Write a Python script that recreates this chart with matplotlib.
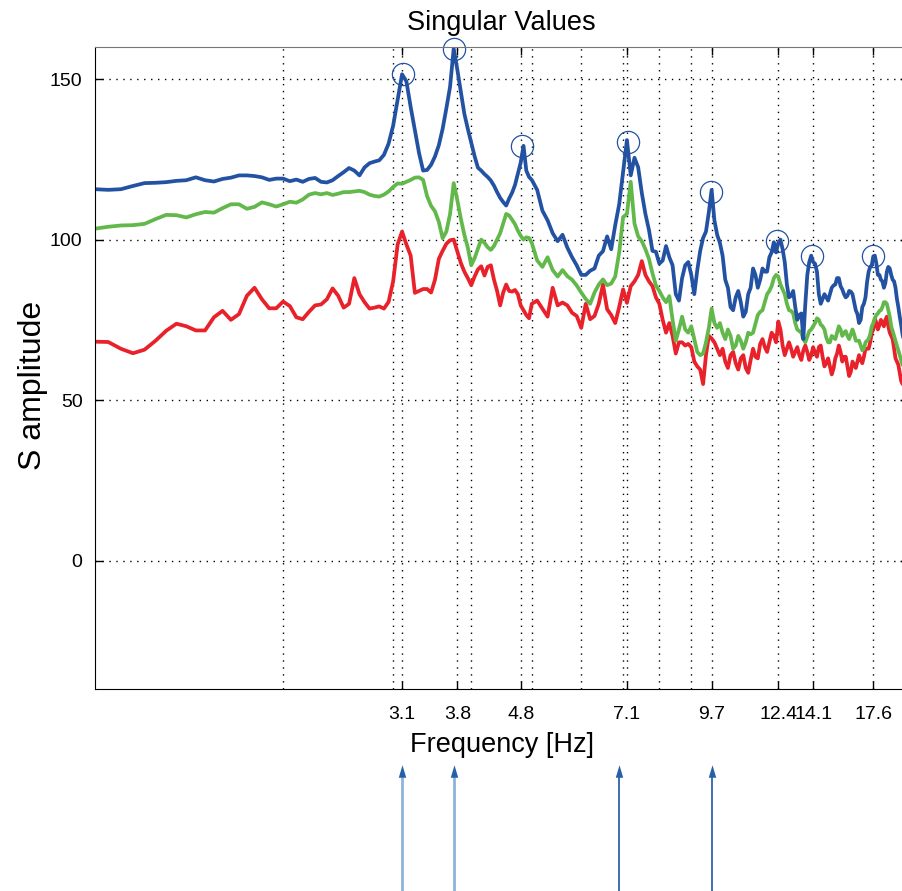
import numpy as np
import matplotlib
matplotlib.use('Agg')
from matplotlib import pyplot as plt
from matplotlib import transforms

plt.rcParams['font.family'] = ['Liberation Sans', 'DejaVu Sans']

# frequency samples [Hz]
freq = [1.00, 1.05, 1.10, 1.15, 1.20, 1.25, 1.30, 1.35, 1.40, 1.45,
        1.50, 1.55, 1.60, 1.65, 1.70, 1.75, 1.80, 1.85, 1.90, 1.95,
        2.00, 2.05, 2.10, 2.15, 2.20, 2.25, 2.30, 2.35, 2.40, 2.45,
        2.50, 2.55, 2.60, 2.65, 2.70, 2.75, 2.80, 2.85, 2.90, 2.95,
        3.00, 3.05, 3.10, 3.15, 3.20, 3.25, 3.30, 3.35, 3.40, 3.45,
        3.50, 3.55, 3.60, 3.65, 3.70, 3.75, 3.80, 3.85, 3.90, 3.95,
        4.00, 4.05, 4.10, 4.15, 4.20, 4.25, 4.30, 4.35, 4.40, 4.45,
        4.50, 4.55, 4.60, 4.65, 4.70, 4.75, 4.80, 4.85, 4.90, 4.95,
        5.00,
        5.1, 5.2, 5.3, 5.4, 5.5, 5.6, 5.7, 5.8, 5.9, 6.0,
        6.1, 6.2, 6.3, 6.4, 6.5, 6.6, 6.7, 6.8, 6.9, 7.0,
        7.1, 7.2, 7.3, 7.4, 7.5, 7.6, 7.7, 7.8, 7.9, 8.0,
        8.1, 8.2, 8.3, 8.4, 8.5, 8.6, 8.7, 8.8, 8.9, 9.0,
        9.1, 9.2, 9.3, 9.4, 9.5, 9.6, 9.7, 9.8, 9.9, 10.0,
        10.1, 10.2, 10.3, 10.4, 10.5, 10.6, 10.7, 10.8, 10.9, 11.0,
        11.1, 11.2, 11.3, 11.4, 11.5, 11.6, 11.7, 11.8, 11.9, 12.0,
        12.1, 12.2, 12.3, 12.4, 12.5, 12.6, 12.7, 12.8, 12.9, 13.0,
        13.1, 13.2, 13.3, 13.4, 13.5, 13.6, 13.7, 13.8, 13.9, 14.0,
        14.1, 14.2, 14.3, 14.4, 14.5, 14.6, 14.7, 14.8, 14.9, 15.0,
        15.1, 15.2, 15.3, 15.4, 15.5, 15.6, 15.7, 15.8, 15.9, 16.0,
        16.1, 16.2, 16.3, 16.4, 16.5, 16.6, 16.7, 16.8, 16.9, 17.0,
        17.1, 17.2, 17.3, 17.4, 17.5, 17.6, 17.7, 17.8, 17.9, 18.0,
        18.1, 18.2, 18.3, 18.4, 18.5, 18.6, 18.7, 18.8, 18.9, 19.0,
        19.1, 19.2, 19.3, 19.4, 19.5, 19.6, 19.7, 19.8, 19.9, 20.0]

# first singular value
sv1 = [115.7, 115.5, 115.7, 116.7, 117.6, 117.7, 117.9, 118.3, 118.5, 119.4,
       118.5, 118.1, 118.9, 119.3, 120.0, 120.0, 119.8, 119.4, 118.6, 119.0,
       119.0, 118.2, 118.7, 118.0, 118.9, 119.2, 118.0, 117.8, 118.5, 119.8,
       121.0, 122.3, 121.5, 120.0, 122.5, 123.8, 124.3, 124.7, 126.4, 129.9,
       135.5, 143.5, 151.5, 149.3, 141.3, 134.0, 127.0, 121.5, 121.7, 123.3,
       125.9, 129.4, 134.5, 140.9, 147.6, 159.5, 153.0, 146.0, 139.2, 134.5,
       130.2, 126.0, 122.4, 121.5, 120.4, 119.5, 118.4, 116.8, 114.8, 113.0,
       111.7, 110.6, 112.8, 114.6, 117.0, 120.5, 124.0, 129.2, 121.5, 119.5,
       118.6,
       115.5, 109.0, 106.0, 102.0, 99.5, 101.5, 97.5, 94.5, 92.0, 89.0,
       89.0, 90.3, 91.0, 95.0, 96.4, 101.0, 97.0, 104.5, 111.0, 121.0,
       131.0, 120.0, 125.5, 122.5, 114.5, 108.0, 103.0, 96.5, 96.2, 92.5,
       93.5, 98.0, 94.5, 92.0, 83.0, 81.0, 88.0, 92.0, 93.0, 89.0,
       83.0, 90.5, 96.5, 100.5, 102.5, 108.5, 115.5, 106.0, 101.5, 99.0,
       95.0, 87.5, 85.0, 79.0, 78.0, 82.0, 84.0, 80.5, 76.0, 77.5,
       83.0, 85.0, 91.0, 89.0, 85.0, 87.5, 91.0, 90.0, 90.0, 94.5,
       96.0, 99.2, 96.0, 99.0, 100.0, 97.0, 93.0, 86.0, 82.0, 82.5,
       84.0, 79.0, 75.0, 76.5, 77.0, 69.0, 80.0, 89.0, 93.0, 95.0,
       93.0, 92.5, 90.0, 83.0, 80.0, 81.5, 83.0, 82.0, 81.0, 83.0,
       85.0, 85.7, 86.0, 88.0, 88.0, 85.5, 84.5, 83.0, 82.0, 82.5,
       84.0, 83.8, 83.0, 80.5, 78.0, 76.8, 74.0, 75.0, 79.0, 80.0,
       82.0, 86.8, 90.0, 91.5, 92.0, 94.8, 95.0, 92.5, 89.0, 89.0,
       87.5, 87.0, 85.0, 86.5, 90.0, 91.5, 91.0, 89.0, 87.5, 87.0,
       85.0, 81.5, 79.0, 76.0, 73.5, 70.5, 68.5, 67.0, 65.5, 64.0]

# second singular value
sv2 = [103.4, 104.0, 104.4, 104.5, 104.9, 106.4, 107.7, 107.6, 106.9, 107.9,
       108.6, 108.4, 109.8, 111.0, 111.0, 109.6, 110.2, 111.6, 111.0, 110.3,
       111.0, 111.8, 111.5, 112.5, 114.0, 114.5, 114.1, 114.5, 113.9, 114.3,
       114.8, 114.8, 115.0, 115.2, 114.8, 114.0, 113.6, 113.4, 114.0, 115.0,
       116.4, 117.5, 117.4, 118.0, 118.6, 119.3, 119.4, 118.6, 113.5, 110.5,
       108.8, 105.5, 100.4, 102.5, 108.0, 117.6, 112.3, 106.5, 101.5, 97.5,
       92.0, 94.2, 97.2, 100.0, 99.0, 97.6, 96.8, 98.0, 100.0, 102.0,
       105.0, 108.0, 107.5, 106.2, 104.8, 102.8, 101.2, 100.0, 100.7, 100.5,
       99.0,
       93.5, 91.5, 94.5, 90.5, 88.5, 90.5, 88.6, 87.5, 85.7, 83.5,
       81.5, 80.0, 83.5, 86.0, 87.6, 85.8, 86.3, 88.5, 96.0, 107.0,
       108.0, 118.0, 105.0, 101.0, 99.5, 97.0, 94.0, 89.5, 85.7, 84.0,
       82.0, 80.5, 82.4, 75.0, 68.5, 72.0, 76.0, 72.0, 71.0, 73.0,
       69.0, 65.0, 64.0, 64.5, 68.0, 72.5, 78.5, 74.0, 72.5, 74.0,
       71.0, 69.0, 72.0, 70.0, 66.0, 67.0, 70.0, 68.5, 66.0, 68.0,
       71.0, 70.5, 71.0, 73.8, 76.5, 77.5, 78.0, 80.5, 83.0, 84.0,
       85.5, 88.0, 89.0, 88.5, 86.0, 84.5, 83.0, 80.0, 78.0, 77.8,
       77.0, 74.0, 72.0, 71.5, 71.0, 69.0, 68.0, 69.8, 71.5, 72.0,
       73.0, 74.0, 75.5, 75.0, 73.5, 73.0, 72.0, 69.5, 68.0, 68.0,
       70.0, 69.5, 69.0, 71.0, 73.0, 72.0, 70.0, 71.0, 71.5, 70.0,
       69.0, 70.5, 72.0, 70.5, 68.5, 68.5, 68.5, 67.0, 65.5, 66.0,
       68.0, 68.5, 69.0, 70.5, 73.0, 74.0, 75.5, 76.5, 77.0, 77.8,
       78.0, 79.0, 80.5, 80.5, 80.0, 78.0, 76.0, 73.0, 71.5, 70.0,
       68.5, 67.0, 65.5, 64.0, 62.5, 61.0, 60.5, 59.5, 58.5, 58.0]

# third singular value
sv3 = [68.2, 68.1, 66.0, 64.6, 65.7, 68.5, 71.6, 73.8, 73.0, 71.7,
       71.7, 75.8, 77.8, 75.0, 76.8, 82.5, 85.0, 81.4, 78.6, 78.6,
       80.7, 79.3, 75.8, 75.2, 77.5, 79.5, 79.8, 81.4, 84.8, 82.5,
       78.8, 80.0, 88.0, 83.0, 80.5, 78.5, 78.8, 79.2, 78.5, 80.6,
       87.0, 98.5, 102.5, 98.5, 95.0, 83.4, 84.0, 84.6, 84.6, 83.5,
       87.5, 94.0, 96.5, 98.7, 99.8, 100.0, 96.3, 92.7, 90.0, 88.0,
       85.8, 88.5, 90.7, 91.7, 88.8, 91.5, 92.0, 87.5, 84.0, 79.5,
       83.5, 86.0, 84.0, 83.8, 84.3, 83.0, 79.5, 78.0, 76.5, 75.5,
       80.0,
       81.0, 78.5, 76.0, 85.0, 79.5, 80.4, 79.5, 77.2, 76.2, 72.5,
       80.0, 75.2, 76.2, 80.0, 86.0, 78.3, 76.5, 74.0, 79.0, 84.5,
       80.3, 85.5, 87.0, 89.0, 93.3, 89.0, 87.0, 85.5, 82.0, 80.0,
       75.0, 71.0, 74.0, 70.0, 64.5, 68.0, 68.0, 67.0, 67.5, 66.5,
       62.0, 60.5, 59.5, 55.0, 64.0, 70.0, 69.2, 68.0, 66.0, 64.0,
       66.0, 62.0, 60.0, 64.0, 65.0, 61.5, 59.5, 63.0, 64.0, 60.0,
       58.5, 62.5, 66.0, 63.5, 63.0, 67.5, 69.0, 66.5, 65.0, 68.0,
       71.0, 70.0, 68.0, 74.5, 72.0, 67.0, 64.0, 66.0, 68.0, 66.0,
       63.5, 65.0, 66.5, 64.0, 62.5, 65.5, 67.0, 65.0, 62.5, 64.0,
       66.5, 64.8, 63.5, 66.5, 67.0, 63.5, 60.5, 61.5, 63.0, 60.5,
       58.0, 59.8, 63.0, 64.5, 67.0, 65.0, 62.0, 63.5, 63.5, 60.5,
       57.5, 58.8, 62.0, 61.0, 60.0, 62.0, 64.0, 62.5, 61.5, 63.5,
       66.0, 66.0, 66.0, 68.0, 71.0, 72.0, 75.5, 74.0, 72.0, 73.3,
       75.0, 74.0, 73.0, 75.0, 76.0, 73.0, 71.0, 70.0, 69.0, 66.0,
       63.0, 62.0, 61.0, 58.5, 56.0, 55.0, 55.5, 53.5, 53.0, 52.0]

# picked peaks (circles)
peak_freq = [3.11, 3.75, 4.83, 7.13, 9.66, 12.32, 14.05, 17.6]
peak_amp = [151.5, 159.5, 129.2, 130.5, 114.8, 99.5, 95.0, 94.8]

tick_freq = [3.1, 3.8, 4.8, 7.1, 9.7, 12.4, 14.1, 17.6]
tick_labels = ['3.1', '3.8', '4.8', '7.1', '9.7', '12.4', '14.1', '17.6']
minor_freq = [2, 3, 4, 5, 6, 7, 8, 9]

arrow_freq = [3.1, 3.75, 6.9, 9.7]
arrow_light = [True, True, False, False]

blue = '#2352a3'
green = '#62b84a'
red = '#e8212a'

fig = plt.figure(figsize=(9.03, 8.91), dpi=100)
ax = fig.add_axes([95 / 903, 202 / 891, 813 / 903, 642 / 891])

ax.plot(freq, sv3, color=red, lw=2.7)
ax.plot(freq, sv2, color=green, lw=2.7)
ax.plot(freq, sv1, color=blue, lw=2.7)
ax.plot(peak_freq, peak_amp, 'o', mfc='none', mec=blue, mew=0.9, ms=16,
        clip_on=False)

ax.set_xscale('log')
ax.set_xlim(1, 20)
ax.set_ylim(-40, 160)
ax.set_xticks(tick_freq)
ax.set_xticklabels(tick_labels)
ax.set_xticks(minor_freq, minor=True)
ax.set_xticklabels([], minor=True)
ax.set_yticks([0, 50, 100, 150])

dots = (0, (1, 4))
ax.grid(True, which='major', axis='both', color='k', lw=1.0, linestyle=dots)
ax.grid(True, which='minor', axis='x', color='k', lw=1.0, linestyle=dots)
ax.tick_params(which='major', direction='in', length=6, width=1, top=True, right=True,
               labelsize=14)
ax.tick_params(axis='x', which='major', pad=12)
ax.tick_params(axis='y', which='major', pad=9)
ax.tick_params(which='minor', length=0)
for s in ['left', 'bottom']:
    ax.spines[s].set_color('k')
ax.spines['top'].set_color('#777777')

ax.set_title('Singular Values', fontsize=19.5, pad=12)
ax.set_xlabel('Frequency [Hz]', fontsize=19.5, labelpad=7)
ax.set_ylabel('S amplitude', fontsize=23)
ax.yaxis.set_label_coords(-0.058, 0.4735)

# arrows under the axis
trans = transforms.blended_transform_factory(ax.transData, fig.transFigure)
head = [(0, 1), (-0.6, -1), (0.6, -1), (0, 1)]
for f, light in zip(arrow_freq, arrow_light):
    shaft_c = '#8eb2da' if light else '#3d6fb0'
    ax.plot([f, f], [0.0, 0.128], color=shaft_c, lw=2.0 if light else 1.4,
            transform=trans, clip_on=False)
    ax.plot([f], [0.1345], marker=head, ms=9, color='#2561a8', mew=0,
            transform=trans, clip_on=False)

plt.savefig('out.png', dpi=100)
